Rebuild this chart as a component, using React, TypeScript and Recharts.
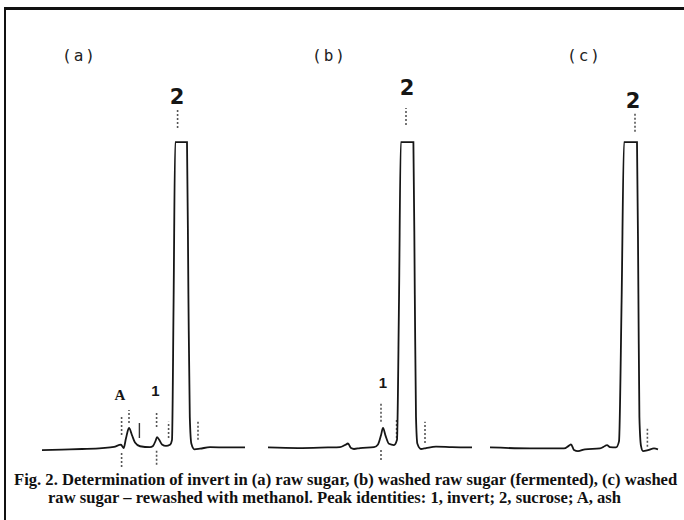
import React from "react";
import { LineChart, Line, XAxis, YAxis, ReferenceLine, ReferenceDot } from "recharts";

// retention time (min) and detector signal (% of full scale; 100 = pen at its limit)
const TIME_A = [0, 1.0, 2.0, 3.0, 3.6, 3.95, 4.08, 4.2, 4.35, 4.5, 4.65, 4.9, 5.4, 5.55, 5.68, 5.75, 5.85, 6.0, 6.2, 6.4, 6.5, 6.58, 6.66, 7.25, 7.32, 7.39, 7.47, 7.62, 7.9, 8.4, 9.3, 10.15];
const SIGNAL_A = [-0.9, -0.7, -0.5, -0.2, 0.2, 0.9, -0.2, 3.0, 6.4, 4.0, 1.6, 0.4, 0.1, 0.5, 2.2, 3.4, 2.6, 1.0, 0.5, 0.9, 2.5, 48, 100, 100, 50, 10, 1.2, -0.6, -0.4, 0.1, 0, 0];

const TIME_B = [0, 1.5, 3.0, 3.6, 3.85, 4.0, 4.15, 4.3, 4.6, 5.3, 5.5, 5.65, 5.75, 5.88, 6.05, 6.3, 6.45, 6.55, 6.64, 7.27, 7.34, 7.4, 7.47, 7.65, 7.9, 8.4, 9.2, 10.2];
const SIGNAL_B = [0, -0.2, 0, 0.1, 0.8, 1.3, -0.2, -0.5, -0.2, 0.1, 1.0, 4.0, 6.4, 3.8, 1.2, 0.8, 2.5, 48, 100, 100, 50, 10, 1.2, -0.5, -0.2, 0.3, 0.1, 0];

const TIME_C = [0, 2.0, 3.7, 3.95, 4.05, 4.2, 4.4, 4.75, 5.5, 5.75, 5.85, 6.0, 6.3, 6.45, 6.58, 6.7, 7.35, 7.42, 7.47, 7.55, 7.65, 7.9, 8.2, 8.4];
const SIGNAL_C = [0, -0.3, -0.3, 0.6, 1.0, -0.8, -1.2, -0.6, -0.3, 0.5, 0.8, 0.1, 0, 2.0, 48, 100, 100, 50, 10, 0.5, -1.2, -0.9, -0.3, -0.6];

// integrator event marks: [time, from, to]
const DOTTED_A = [[3.98, 4.1, 10.0], [3.98, -6.4, -1.8], [4.35, 8.0, 12.3], [5.73, 6.7, 11.3], [5.73, -5.7, -0.8], [6.33, 3.1, 8.4], [7.8, 2.5, 8.4], [6.78, 104.6, 110.5]];
const SOLID_A = [[4.87, 3.1, 8.0]];
const DOTTED_B = [[5.65, 8.4, 14.6], [5.65, -4.1, -0.2], [6.43, 3.1, 9.0], [7.85, 1.5, 8.4], [6.9, 105.6, 111.2]];
const DOTTED_C = [[7.87, 0.2, 6.7], [7.25, 103.4, 109.6]];

// peak labels: time, height, text
const PEAK_TIME_A = [3.9, 5.67, 6.75];
const PEAK_Y_A = [17.2, 18.5, 114.8];
const PEAK_TEXT_A = ["A", "1", "2"];
const PEAK_TIME_B = [5.75, 6.95];
const PEAK_Y_B = [21.1, 117.8];
const PEAK_TEXT_B = ["1", "2"];
const PEAK_TIME_C = [7.15];
const PEAK_Y_C = [113.5];
const PEAK_TEXT_C = ["2"];

const CAPTION_1 = "Fig. 2. Determination of invert in (a) raw sugar, (b) washed raw sugar (fermented), (c) washed";
const CAPTION_2 = "raw sugar \u2013 rewashed with methanol. Peak identities: 1, invert; 2, sucrose; A, ash";

const INK = "#161616";

function Panel(props: any) {
  const { left, time, signal, dotted, solid, peakTime, peakY, peakText } = props;
  const data = time.map((t: number, i: number) => ({ t, v: signal[i] }));
  return (
    <div style={{ position: "absolute", left, top: 75 }}>
      <LineChart width={204} height={403} data={data} margin={{ top: 0, right: 0, bottom: 0, left: 0 }}>
        <XAxis dataKey="t" type="number" domain={[0, 10.2]} hide />
        <YAxis type="number" domain={[-10, 122]} hide allowDataOverflow />
        {dotted.map((m: number[], i: number) => (
          <ReferenceLine
            key={"d" + i}
            segment={[{ x: m[0], y: m[1] }, { x: m[0], y: m[2] }]}
            stroke="#555"
            strokeWidth={1.6}
            strokeDasharray="2 2"
          />
        ))}
        {(solid || []).map((m: number[], i: number) => (
          <ReferenceLine key={"s" + i} segment={[{ x: m[0], y: m[1] }, { x: m[0], y: m[2] }]} stroke="#333" strokeWidth={1.4} />
        ))}
        <Line
          type="monotone"
          dataKey="v"
          stroke={INK}
          strokeWidth={1.8}
          dot={false}
          isAnimationActive={false}
        />
        {peakTime.map((t: number, i: number) => (
          <ReferenceDot
            key={"p" + i}
            x={t}
            y={peakY[i]}
            r={0}
            fill="none"
            stroke="none"
            label={{
              value: peakText[i],
              position: "center",
              fill: INK,
              fontSize: peakText[i] === "2" ? 21 : 15,
              fontWeight: "bold",
              fontFamily: peakText[i] === "2" ? "DejaVu Sans" : peakText[i] === "A" ? "Liberation Serif" : "Liberation Sans",
            }}
          />
        ))}
      </LineChart>
    </div>
  );
}

const titleStyle: React.CSSProperties = {
  position: "absolute",
  top: 46,
  fontFamily: "DejaVu Sans Mono",
  fontSize: 16,
  color: "#222",
  letterSpacing: 2,
};

const captionStyle: React.CSSProperties = {
  position: "absolute",
  fontFamily: "Liberation Serif",
  fontWeight: "bold",
  fontSize: 16.6,
  color: "#111",
  whiteSpace: "nowrap",
};

export default function App() {
  return (
    <div style={{ position: "fixed", left: 0, top: 0, width: 684, height: 520, background: "#fff", overflow: "hidden" }}>
      <div style={{ position: "absolute", left: 4, top: 7, width: 680, height: 3, background: "#111" }} />
      <div style={{ position: "absolute", left: 4, top: 7, width: 2, height: 513, background: "#111" }} />

      <span style={{ ...titleStyle, left: 62 }}>(a)</span>
      <span style={{ ...titleStyle, left: 312 }}>(b)</span>
      <span style={{ ...titleStyle, left: 567 }}>(c)</span>

      <Panel left={42} time={TIME_A} signal={SIGNAL_A} dotted={DOTTED_A} solid={SOLID_A} peakTime={PEAK_TIME_A} peakY={PEAK_Y_A} peakText={PEAK_TEXT_A} />
      <Panel left={268} time={TIME_B} signal={SIGNAL_B} dotted={DOTTED_B} peakTime={PEAK_TIME_B} peakY={PEAK_Y_B} peakText={PEAK_TEXT_B} />
      <Panel left={490} time={TIME_C} signal={SIGNAL_C} dotted={DOTTED_C} peakTime={PEAK_TIME_C} peakY={PEAK_Y_C} peakText={PEAK_TEXT_C} />

      <div style={{ ...captionStyle, left: 14, top: 470 }}>{CAPTION_1}</div>
      <div style={{ ...captionStyle, left: 48, top: 488 }}>{CAPTION_2}</div>
    </div>
  );
}
